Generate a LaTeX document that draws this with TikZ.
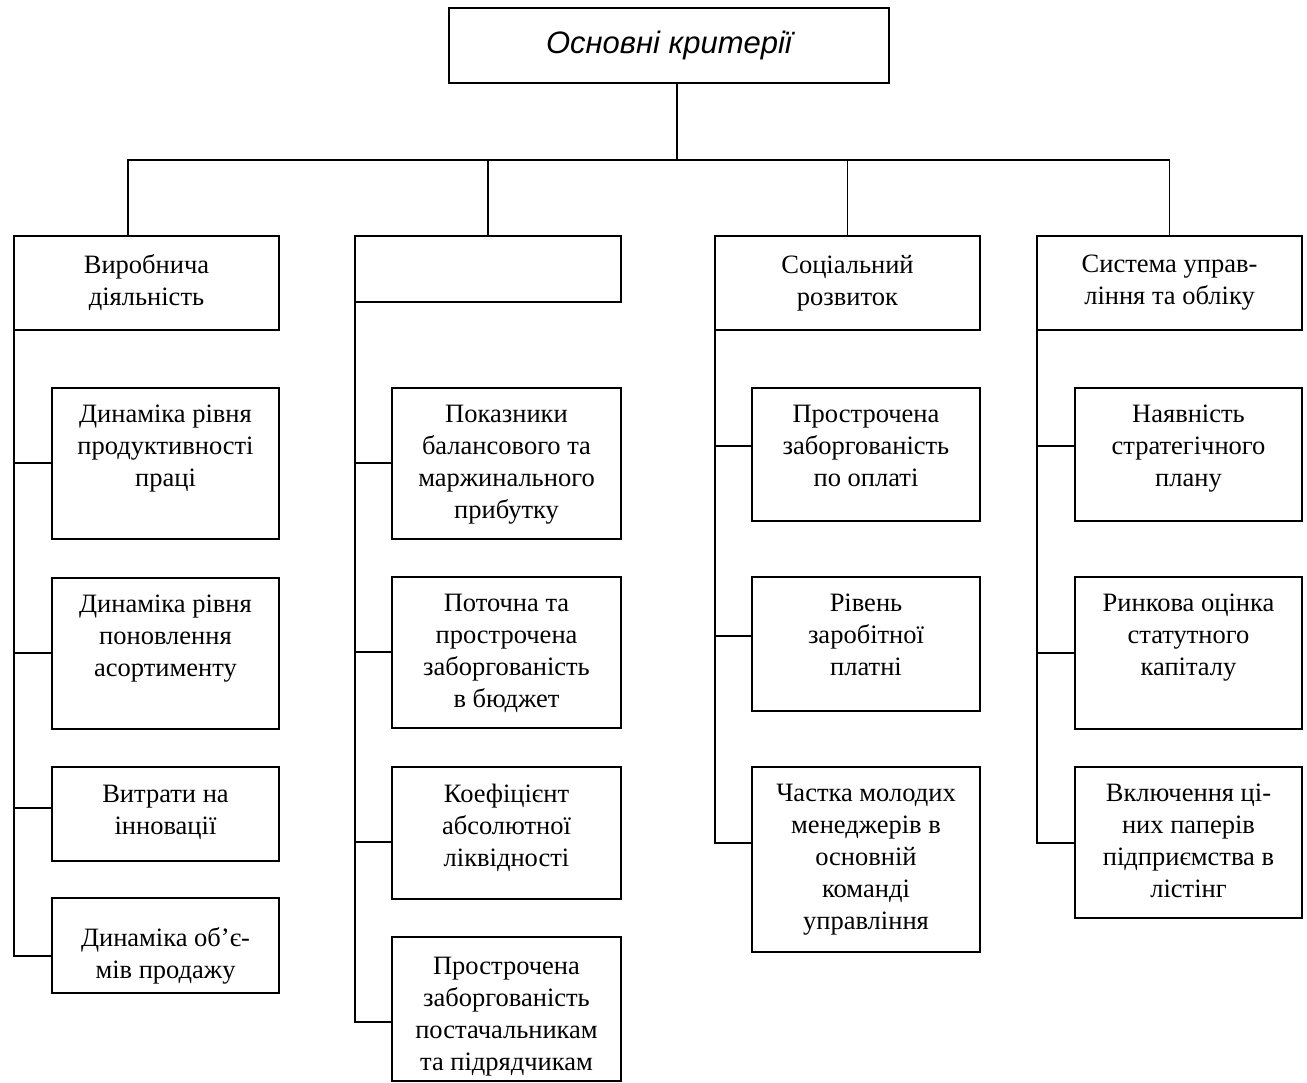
\documentclass[tikz,border=0pt]{standalone}
\usepackage{fontspec}
\setmainfont{Liberation Serif}
\setsansfont{Liberation Sans}
\usetikzlibrary{calc}
\newcommand\bodyfont{\fontsize{26.5}{32}\selectfont}
% centred text box: name, x1, y1, x2, y2, text
\newcommand\mkcbox[6]{%
  \pgfmathsetmacro\bxw{#4-#2}%
  \pgfmathsetmacro\bxh{#5-#3}%
  \node[boxst] (#1) at (#2,-#3) {\parbox[c][\bxh pt][c]{\bxw pt}{\centering\bodyfont\leavevmode #6}};}
% top-aligned text box: name, x1, y1, x2, y2, gap, text
\newcommand\mktbox[7]{%
  \pgfmathsetmacro\bxw{#4-#2}%
  \pgfmathsetmacro\bxh{#5-#3}%
  \node[boxst] (#1) at (#2,-#3) {\parbox[c][\bxh pt][t]{\bxw pt}{\centering\bodyfont\vspace*{#6pt}\leavevmode #7}};}
\begin{document}
\begin{tikzpicture}[x=1pt,y=1pt,
  boxst/.style={draw, line width=1.4pt, inner sep=0pt, outer sep=0pt, anchor=north west},
  conn/.style={line width=1.4pt},
  titlest/.style={draw, line width=1.4pt, minimum width=440pt, minimum height=75pt, inner sep=0pt,
    font=\sffamily\itshape\fontsize{31}{35}\selectfont}]
\useasboundingbox (0,0) rectangle (1307,-1083);
% title
\node[titlest] (title) at (669,-45.5) {Основні критерії};
% top level
\mkcbox{b1}{14}{236}{279}{330}{Виробнича\\діяльність}
\mkcbox{b2}{355}{236}{621}{302}{}
\mkcbox{b3}{715}{236}{980}{330}{Соціальний\\розвиток}
\mkcbox{b4}{1037}{236}{1302}{330}{Система управ-\\ління та обліку}
% column 1
\mktbox{c11}{52}{388}{279}{539}{17}{Динаміка рівня\\продуктивності\\праці}
\mktbox{c12}{52}{578}{279}{729}{17}{Динаміка рівня\\поновлення\\асортименту}
\mktbox{c13}{52}{767}{279}{861}{18}{Витрати на\\інновації}
\mktbox{c14}{52}{898}{279}{993}{30}{Динаміка об’є-\\мів продажу}
% column 2
\mktbox{c21}{392}{388}{621}{539}{17}{Показники\\балансового та\\маржинального\\прибутку}
\mktbox{c22}{392}{577}{621}{728}{17}{Поточна та\\прострочена\\заборгованість\\в бюджет}
\mktbox{c23}{392}{767}{621}{899}{17}{Коефіцієнт\\абсолютної\\ліквідності}
\mktbox{c24}{392}{937}{621}{1081}{20}{Прострочена\\заборгованість\\постачальникам\\та підрядчикам}
% column 3
\mktbox{c31}{752}{388}{980}{521}{17}{Прострочена\\заборгованість\\по оплаті}
\mktbox{c32}{752}{577}{980}{711}{17}{Рівень\\заробітної\\платні}
\mktbox{c33}{752}{767}{980}{952}{17}{Частка молодих\\менеджерів в\\основній\\команді\\управління}
% column 4
\mktbox{c41}{1075}{388}{1302}{521}{17}{Наявність\\стратегічного\\плану}
\mktbox{c42}{1075}{577}{1302}{729}{17}{Ринкова оцінка\\статутного\\капіталу}
\mktbox{c43}{1075}{767}{1302}{918}{17}{Включення ці-\\них паперів\\підприємства в\\лістінг}
% tree connectors
\coordinate (bus) at (677,-160);
\draw[conn] (bus |- title.south) -- (bus);
\draw[conn] (bus) -| ([xshift=114pt]b1.north west);
\draw[conn] (bus) -| (b2.north);
\draw[conn] (bus) -| (b3.north);
\draw[conn] (bus) -| (b4.north);
% spines
\draw[conn] (b1.south west) |- ([yshift=-75pt]c11.north west);
\draw[conn] (b1.south west) |- ([yshift=-75pt]c12.north west);
\draw[conn] (b1.south west) |- ([yshift=-41pt]c13.north west);
\draw[conn] (b1.south west) |- ([yshift=-58pt]c14.north west);
\draw[conn] (b2.south west) |- ([yshift=-75pt]c21.north west);
\draw[conn] (b2.south west) |- ([yshift=-75pt]c22.north west);
\draw[conn] (b2.south west) |- ([yshift=-75pt]c23.north west);
\draw[conn] (b2.south west) |- ([yshift=-85pt]c24.north west);
\draw[conn] (b3.south west) |- ([yshift=-58pt]c31.north west);
\draw[conn] (b3.south west) |- ([yshift=-59pt]c32.north west);
\draw[conn] (b3.south west) |- ([yshift=-76pt]c33.north west);
\draw[conn] (b4.south west) |- ([yshift=-58pt]c41.north west);
\draw[conn] (b4.south west) |- ([yshift=-76pt]c42.north west);
\draw[conn] (b4.south west) |- ([yshift=-76pt]c43.north west);
\end{tikzpicture}
\end{document}
